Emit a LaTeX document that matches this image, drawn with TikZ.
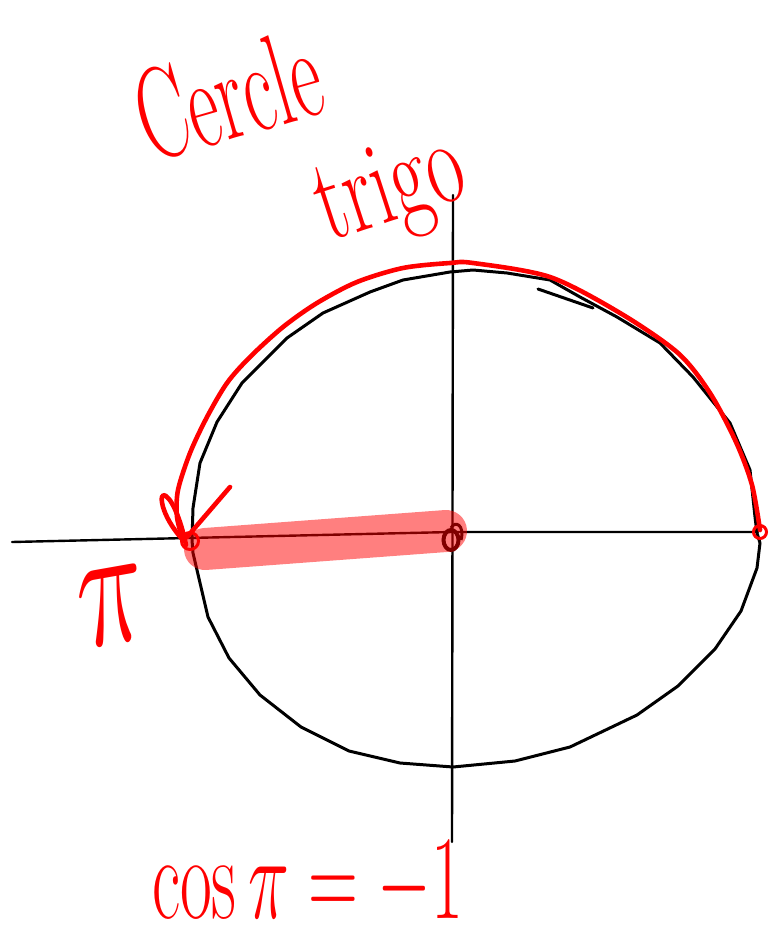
\documentclass[tikz,border=0pt]{standalone}
\usetikzlibrary{shapes.geometric}
\definecolor{pen}{RGB}{255,0,0}
\definecolor{darkpen}{RGB}{128,0,0}
\begin{document}
\begin{tikzpicture}[x=1pt,y=-1pt,
  axis/.style={black,line width=2.4pt,line cap=round},
  circ/.style={black,line width=3pt,line join=round,line cap=round},
  redline/.style={pen,line width=4.6pt,line cap=round,line join=round},
  hand/.style={pen,inner sep=0pt},
]
\useasboundingbox (0,0) rectangle (769,947);
% axes
\coordinate (xl) at (12,542);
\coordinate (o) at (452,532);
\coordinate (xr) at (758,532);
\coordinate (yt) at (453,195);
\coordinate (yb) at (452,842);
\draw[axis] (xl) -- (o) -- (xr);
\draw[axis] (yt) -- (yb);
% black circle
\draw[circ] plot coordinates {
 (192,540) (193,508) (200,463) (217,422) (242,383) (287,338) (323,313) (370,292) (403,280) (450,272)
 (473,270) (507,273) (550,280) (580,297) (617,317) (660,343) (693,377) (730,423) (750,470) (755,517) (757,533)
 (760,543) (757,568) (741,611) (715,649) (678,686) (637,715) (570,747) (515,761) (453,767)
 (400,763) (349,751) (301,727) (260,695) (229,658) (208,617) (193,553)} -- cycle;
\coordinate (s1) at (538,289);
\coordinate (s2) at (593,308);
\draw[circ] (s1) -- (s2);
% highlighted segment (semi-transparent marker)
\coordinate (hA) at (205,549);
\coordinate (hB) at (446,531);
\draw[pen,opacity=0.5,line width=42pt,line cap=round] (hA) -- (hB);
% red arc with arrow
\coordinate (re) at (183,540);
\draw[redline] plot[smooth,tension=0.5] coordinates {
 (760,530) (752,485) (736,442) (710,393) (678,353) (620,313) (550,277) (473,263) (450,263)
 (403,268) (357,282) (317,303) (283,327) (250,357) (227,383) (207,417) (190,453) (178,490) (177,517) (183,540)};
\draw[redline] (re) .. controls (160,515) and (158,490) .. (166,496)
  .. controls (174,502) and (182,525) .. (186,545);
\coordinate (ah) at (230,487);
\draw[redline] (ah) -- (187,537);
% points
\node[draw=pen,line width=3pt,circle,minimum size=17pt,inner sep=0pt] (pl) at (190,541) {};
\node[draw=pen,line width=3pt,circle,minimum size=13pt,inner sep=0pt] (pr) at (760,532) {};
\node[draw=darkpen,line width=4pt,ellipse,minimum width=15pt,minimum height=20pt,inner sep=0pt] (po) at (451,540) {};
\draw[darkpen,line width=3pt] (po.north) .. controls (455,520) and (465,525) .. (461,540);
% texts
\node[hand,anchor=base west,rotate=16] (t1) at (150,163)
  {\fontsize{100}{100}\selectfont\scalebox{0.75}[1.3]{Cercle}};
\node[hand,anchor=base west,rotate=18] (t2) at (328,242)
  {\fontsize{100}{100}\selectfont\scalebox{0.8}[1.2]{trigo}};
\node[hand,rotate=10] (t3) at (113,606) {\Huge\scalebox{4.7}[7]{$\pi$}};
\node[hand,anchor=base west] (t4) at (152,918) {\Huge\scalebox{2.78}[4.8]{$\cos\pi=-1$}};
\end{tikzpicture}
\end{document}
